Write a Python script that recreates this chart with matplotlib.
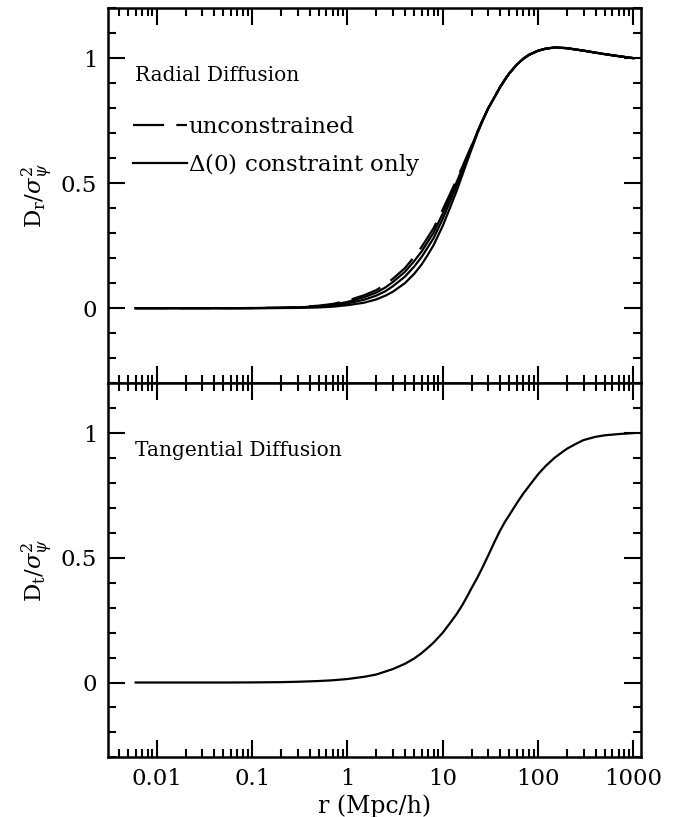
import numpy as np
import matplotlib
matplotlib.use("Agg")
import matplotlib.pyplot as plt
from matplotlib.ticker import FixedLocator, MultipleLocator, LogLocator, NullFormatter

plt.rcParams["font.family"] = ["DejaVu Serif"]
plt.rcParams["mathtext.fontset"] = "dejavuserif"

# radial diffusion, values
r_rad = [0.006, 0.01, 0.02, 0.05, 0.1, 0.2, 0.3, 0.5, 0.7, 1, 1.5, 2, 2.5, 3, 4, 5, 6,
         7, 8, 10, 12, 14, 16, 18, 20, 23, 26, 30, 35, 40, 45, 50, 60, 70, 80, 100,
         120, 150, 200, 300, 500, 700, 1000]
tail = [0.80, 0.845, 0.885, 0.915, 0.94, 0.975, 0.998, 1.013, 1.03, 1.038, 1.043,
        1.04, 1.03, 1.016, 1.008, 1.0]
d_unc = [0.0, 0.0, 0.0, 0.0, 0.0005, 0.002, 0.004, 0.01, 0.017, 0.03, 0.052, 0.072,
         0.095, 0.118, 0.16, 0.205, 0.245, 0.285, 0.32, 0.395, 0.46, 0.515, 0.565,
         0.61, 0.65, 0.705, 0.75] + tail
d_c1 = [0.0, 0.0, 0.0, 0.0, 0.0004, 0.0015, 0.003, 0.008, 0.014, 0.025, 0.044, 0.062,
        0.083, 0.105, 0.145, 0.188, 0.227, 0.267, 0.302, 0.379, 0.447, 0.505, 0.558,
        0.605, 0.647, 0.704, 0.75] + tail
d_c2 = [0.0, 0.0, 0.0, 0.0, 0.0003, 0.001, 0.002, 0.006, 0.010, 0.019, 0.034, 0.05,
        0.068, 0.088, 0.126, 0.166, 0.205, 0.245, 0.28, 0.358, 0.43, 0.49, 0.547,
        0.598, 0.642, 0.702, 0.749] + tail
d_c3 = [0.0, 0.0, 0.0, 0.0, 0.0002, 0.0006, 0.001, 0.003, 0.006, 0.012, 0.022, 0.035,
        0.05, 0.066, 0.1, 0.137, 0.175, 0.215, 0.252, 0.33, 0.405, 0.47, 0.532, 0.587,
        0.635, 0.698, 0.747] + tail

# tangential diffusion
r_tan = [0.006, 0.01, 0.02, 0.05, 0.1, 0.2, 0.3, 0.5, 0.7, 1, 1.5, 2, 3, 4, 5, 6, 7,
         8, 10, 12, 14, 16, 18, 20, 23, 26, 30, 35, 40, 45, 50, 60, 70, 80, 100, 120,
         150, 200, 250, 300, 400, 500, 700, 1000]
d_tan = [0.0, 0.0, 0.0, 0.0, 0.0005, 0.0015, 0.003, 0.006, 0.009, 0.014, 0.023, 0.032,
         0.054, 0.075, 0.096, 0.118, 0.14, 0.16, 0.2, 0.24, 0.275, 0.31, 0.345, 0.378,
         0.42, 0.46, 0.51, 0.565, 0.61, 0.645, 0.672, 0.72, 0.758, 0.787, 0.835,
         0.868, 0.902, 0.937, 0.957, 0.972, 0.985, 0.991, 0.996, 1.0]

xticks = [0.01, 0.1, 1, 10, 100, 1000]
xticklabels = ["0.01", "0.1", "1", "10", "100", "1000"]

fig = plt.figure(figsize=(6.9, 8.17), dpi=100)
ax1 = fig.add_axes([0.157, 0.531, 0.772, 0.459])
ax2 = fig.add_axes([0.157, 0.073, 0.772, 0.458])

lw = 1.6
ax1.plot(r_rad, d_unc, color="k", lw=lw, dashes=(14, 5.5), label="unconstrained")
ax1.plot(r_rad, d_c1, color="k", lw=lw, label=r"$\Delta$(0) constraint only")
ax1.plot(r_rad, d_c2, color="k", lw=lw)
ax1.plot(r_rad, d_c3, color="k", lw=lw)
ax2.plot(r_tan, d_tan, color="k", lw=lw)

for ax in (ax1, ax2):
    ax.set_xscale("log")
    ax.set_xlim(0.0031, 1200)
    ax.set_ylim(-0.3, 1.2)
    ax.xaxis.set_major_locator(FixedLocator(xticks))
    ax.xaxis.set_minor_locator(LogLocator(base=10, subs=np.arange(2, 10)))
    ax.xaxis.set_minor_formatter(NullFormatter())
    ax.yaxis.set_major_locator(FixedLocator([0, 0.5, 1]))
    ax.yaxis.set_minor_locator(MultipleLocator(0.1))
    ax.set_yticklabels(["0", "0.5", "1"])
    ax.tick_params(which="both", direction="in", top=True, right=True, width=1.5,
                   labelsize=16.5, pad=8)
    ax.tick_params(which="major", length=12)
    ax.tick_params(which="minor", length=6)
    for s in ax.spines.values():
        s.set_linewidth(1.8)

ax1.set_xticklabels([])
ax2.set_xticklabels(xticklabels)

ax1.set_ylabel(r"D$_{\rm r}$/$\sigma^2_\psi$", fontsize=16.5, labelpad=4)
ax2.set_ylabel(r"D$_{\rm t}$/$\sigma^2_\psi$", fontsize=16.5, labelpad=4)
ax2.set_xlabel("r (Mpc/h)", fontsize=17, labelpad=3)

ax1.text(0.05, 0.82, "Radial Diffusion", transform=ax1.transAxes, fontsize=14.5,
         va="center", ha="left")
ax2.text(0.05, 0.82, "Tangential Diffusion", transform=ax2.transAxes, fontsize=14.5,
         va="center", ha="left")

ax1.legend(loc="center left", bbox_to_anchor=(0.047, 0.63), frameon=False,
           fontsize=16.5, handlelength=2.35, handletextpad=0.05, labelspacing=0.6,
           borderpad=0, borderaxespad=0)

plt.savefig("out.png", dpi=100)
